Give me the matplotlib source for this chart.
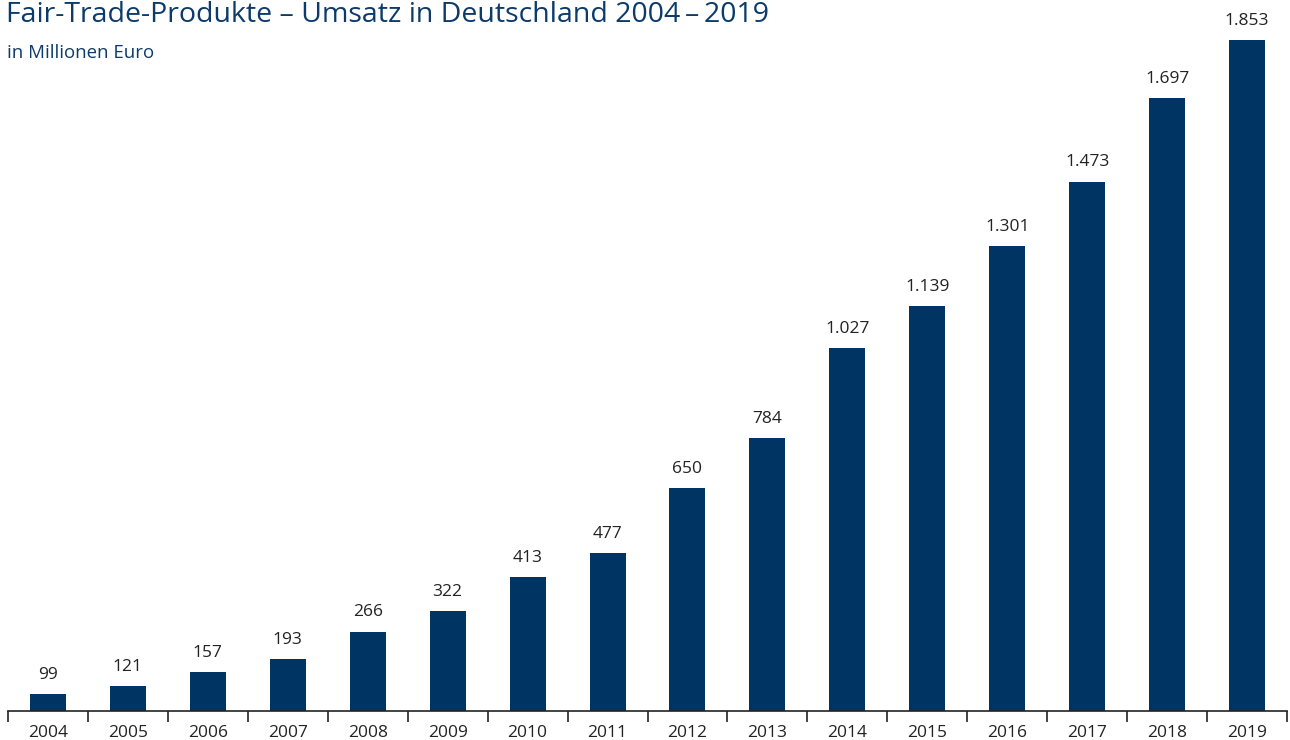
import matplotlib.pyplot as plt
import numpy as np

# Umsatz Fair-Trade-Produkte in Deutschland, Mio. Euro
jahre = ["2004", "2005", "2006", "2007", "2008", "2009", "2010", "2011",
         "2012", "2013", "2014", "2015", "2016", "2017", "2018", "2019"]
umsatz = [99, 121, 157, 193, 266, 322, 413, 477,
          650, 784, 1027, 1139, 1301, 1473, 1697, 1853]

blau = "#003462"
text_blau = "#0b3a6b"

plt.rcParams['font.family'] = ['Open Sans', 'DejaVu Sans']

fig = plt.figure(figsize=(12.9, 7.4), dpi=100)
ax = fig.add_axes([8 / 1290, 29 / 740, 1279 / 1290, 711 / 740])

# Achse beginnt im Original nicht bei 0
y_min = 53
x = np.arange(len(jahre))
ax.bar(x, [v - y_min for v in umsatz], bottom=y_min, width=0.45, color=blau)

for xi, v in zip(x, umsatz):
    label = f"{v:,}".replace(",", ".")
    ax.annotate(label, (xi, v), xytext=(0, 8), textcoords="offset points",
                ha="center", va="bottom", fontsize=12.5, color="#222222")

ax.set_xlim(-0.5, len(jahre) - 0.5)
ax.set_ylim(y_min, 1960)

ax.set_xticks(x)
ax.set_xticklabels(jahre, fontsize=12.5, color="#222222")
ax.set_xticks(np.arange(-0.5, len(jahre)), minor=True)
ax.tick_params(axis="x", which="major", length=0, pad=10)
ax.tick_params(axis="x", which="minor", length=8, width=1.2, color="#222222", direction="out")
ax.set_yticks([])

for s in ["top", "right", "left"]:
    ax.spines[s].set_visible(False)
ax.spines["bottom"].set_color("#222222")
ax.spines["bottom"].set_linewidth(1.2)

fig.text(6 / 1290, 1 - 15 / 740, "Fair-Trade-Produkte – Umsatz in Deutschland 2004\u2009–\u20092019",
         fontsize=20.5, color=text_blau, va="center", ha="left")
fig.text(7 / 1290, 1 - 53 / 740, "in Millionen Euro",
         fontsize=13.4, color=text_blau, va="center", ha="left")

fig.savefig("out.png", dpi=100)
